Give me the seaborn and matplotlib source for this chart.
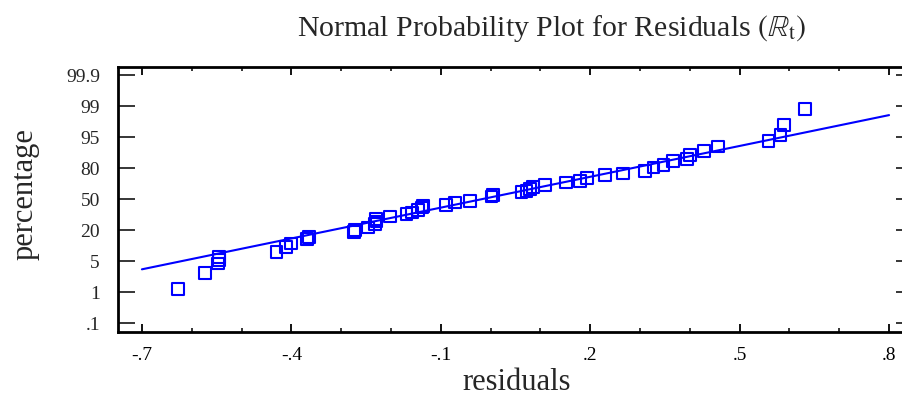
import numpy as np
import matplotlib
matplotlib.use('Agg')
import matplotlib.pyplot as plt
import seaborn as sns
from matplotlib.ticker import MultipleLocator

# ─────────────────────────────────────────────
# DATA
# ─────────────────────────────────────────────
# residual values and their position on the probability scale
# (one scale unit = one labelled tick step, 50% at 0)
residuals = [-0.628, -0.573, -0.548, -0.546, -0.545, -0.430, -0.411, -0.401,
             -0.369, -0.364, -0.274, -0.272, -0.246, -0.232, -0.229, -0.230,
             -0.202, -0.169, -0.158, -0.145, -0.138, -0.135, -0.090, -0.071,
             -0.041, 0.002, 0.005, 0.062, 0.072, 0.079, 0.085, 0.109,
             0.151, 0.179, 0.193, 0.230, 0.266, 0.310, 0.327, 0.347,
             0.367, 0.394, 0.400, 0.429, 0.457, 0.558, 0.582, 0.589, 0.631]
scale_pos = [-2.90, -2.38, -2.07, -1.97, -1.86, -1.69, -1.54, -1.43,
             -1.29, -1.23, -1.07, -0.99, -0.91, -0.81, -0.72, -0.63,
             -0.56, -0.48, -0.43, -0.34, -0.27, -0.22, -0.18, -0.11,
             -0.05, 0.09, 0.14, 0.22, 0.27, 0.34, 0.40, 0.46,
             0.54, 0.59, 0.68, 0.77, 0.83, 0.91, 1.02, 1.10,
             1.23, 1.29, 1.43, 1.56, 1.70, 1.88, 2.06, 2.38, 2.90]

pct_labels = ['.1', '1', '5', '20', '50', '80', '95', '99', '99.9']
x_tick_vals = [-0.7, -0.4, -0.1, 0.2, 0.5, 0.8]
x_tick_labels = ['-.7', '-.4', '-.1', '.2', '.5', '.8']

# reference line
line_x = [-0.7, 0.8]
line_intercept = 0.059
line_slope = 3.313

BLUE = '#0000FF'

sns.set_style('white')
plt.rcParams['font.family'] = ['Liberation Serif', 'DejaVu Serif']
plt.rcParams['mathtext.fontset'] = 'stix'

fig = plt.figure(figsize=(9.03, 4.01), dpi=100)
ax = fig.add_axes([118 / 903, 69 / 401, 786 / 903, 265 / 401])

sns.scatterplot(x=residuals, y=scale_pos, ax=ax, marker='s', s=72,
                facecolor='none', edgecolor=BLUE, linewidth=1.5, zorder=3)
line_y = [line_intercept + line_slope * v for v in line_x]
sns.lineplot(x=line_x, y=line_y, ax=ax, color=BLUE, lw=1.5, zorder=2)

ax.set_xlim(-0.748, 0.830)
ax.set_ylim(-4.28, 4.26)
ax.set_xticks(x_tick_vals)
ax.set_xticklabels(x_tick_labels)
ax.xaxis.set_minor_locator(MultipleLocator(0.1))
ax.set_yticks(np.arange(-4, 5))
ax.set_yticklabels(pct_labels)

ax.tick_params(axis='x', which='major', direction='in', length=6, width=1.3,
               top=True, bottom=True, labelsize=14, pad=11, colors='black')
ax.tick_params(axis='x', which='minor', direction='in', length=3, width=1.3,
               top=True, bottom=True)
ax.tick_params(axis='y', which='major', direction='in', length=12, width=1.3,
               left=True, right=False, labelsize=14, pad=13)

for side in ['left', 'top', 'bottom']:
    ax.spines[side].set_linewidth(2.0)
    ax.spines[side].set_color('black')
ax.spines['right'].set_visible(False)

# short ticks on the right side
ax2 = ax.twinx()
ax2.set_ylim(ax.get_ylim())
ax2.set_yticks(np.arange(-4, 5))
ax2.set_yticklabels([])
ax2.tick_params(axis='y', direction='in', length=6, width=1.3)
for side in ['left', 'top', 'bottom', 'right']:
    ax2.spines[side].set_visible(False)

ax.set_xlabel('')
ax.set_ylabel('')
fig.text(551 / 903, 1 - 28 / 401,
         r'Normal Probability Plot for Residuals $(\mathbb{R}_\mathrm{t})$',
         ha='center', va='center', fontsize=21.5)
fig.text(517 / 903, 1 - 382 / 401, 'residuals', ha='center', va='center',
         fontsize=22)
fig.text(25 / 903, 1 - 194 / 401, 'percentage', ha='center', va='center',
         rotation=90, fontsize=22)

plt.savefig('out.png', dpi=100)
plt.close()
